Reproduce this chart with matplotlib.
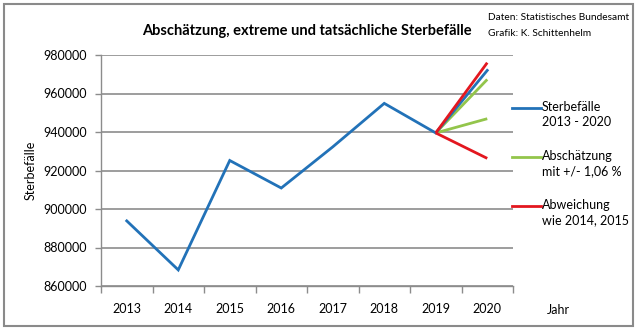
import numpy as np
import matplotlib.pyplot as plt
from matplotlib.patches import Rectangle
from matplotlib.lines import Line2D

plt.rcParams['font.family'] = ['Lato', 'DejaVu Sans']

# Daten
years = ['2013', '2014', '2015', '2016', '2017', '2018', '2019', '2020']
deaths = [893825, 868356, 925200, 910899, 932272, 954874, 939520, 972000]
est_high = 967300   # Abschätzung 2020 oben
est_low = 946900    # Abschätzung 2020 unten
dev_high = 976000   # Abweichung wie 2014/2015 oben
dev_low = 926300    # Abweichung unten

blue = '#2272b8'
green = '#93c54b'
red = '#e3171f'
grid_col = '#8c8c8c'

fig = plt.figure(figsize=(6.4, 3.34), dpi=100)
ax = fig.add_axes([101 / 640, 1 - 286 / 334, 412 / 640, 231 / 334])

x = np.arange(len(years))
ax.plot([x[6], x[7]], [deaths[6], est_high], color=green, lw=2, solid_capstyle='butt')
ax.plot([x[6], x[7]], [deaths[6], est_low], color=green, lw=2, solid_capstyle='butt')
ax.plot(x, deaths, color=blue, lw=2, solid_joinstyle='miter')
ax.plot([x[6], x[7]], [deaths[6], dev_high], color=red, lw=2, solid_capstyle='butt')
ax.plot([x[6], x[7]], [deaths[6], dev_low], color=red, lw=2, solid_capstyle='butt')

ax.set_xlim(-0.5, len(years) - 0.5)
ax.set_ylim(860000, 980000)
ax.set_yticks(np.arange(860000, 980001, 20000))
ax.set_yticklabels([str(v) for v in range(860000, 980001, 20000)], fontsize=9)
ax.set_xticks(x)
ax.set_xticklabels(years, fontsize=9)
ax.set_xticks(np.arange(-0.5, len(years), 1), minor=True)
ax.tick_params(axis='x', which='major', length=0, pad=12)
ax.tick_params(axis='x', which='minor', length=5, color=grid_col, width=1)
ax.tick_params(axis='y', length=4, color=grid_col, width=1, pad=6)
ax.grid(axis='y', color=grid_col, lw=1.2)
ax.set_axisbelow(True)
for s in ['top', 'right']:
    ax.spines[s].set_visible(False)
for s in ['left', 'bottom']:
    ax.spines[s].set_color(grid_col)
    ax.spines[s].set_linewidth(1)

ax.set_ylabel('Sterbefälle', fontsize=9, labelpad=5)
fig.text(547 / 640, 1 - 310 / 334, 'Jahr', fontsize=9, va='center')

fig.text(307 / 640, 1 - 31 / 334, 'Abschätzung, extreme und tatsächliche Sterbefälle',
         fontsize=10.5, fontweight='bold', ha='center', va='center')
fig.text(488 / 640, 1 - 18 / 334, 'Daten: Statistisches Bundesamt', fontsize=7.3, va='center')
fig.text(488 / 640, 1 - 33 / 334, 'Grafik: K. Schittenhelm', fontsize=7.3, va='center')

# Legende
legend = [(blue, 'Sterbefälle\n2013 - 2020', 108),
          (green, 'Abschätzung\nmit +/- 1,06 %', 157),
          (red, 'Abweichung\nwie 2014, 2015', 206)]
for col, label, ypx in legend:
    yf = 1 - ypx / 334
    fig.add_artist(Line2D([512 / 640, 541 / 640], [yf, yf], color=col, lw=2))
    fig.text(542 / 640, yf + 7 / 334, label, fontsize=9, va='top', linespacing=1.35)

fig.add_artist(Rectangle((4 / 640, 1 - 326 / 334), 629 / 640, 322 / 334,
                         transform=fig.transFigure, fill=False, edgecolor='#8a8a8a', lw=1.5))

fig.savefig('out.png', dpi=100)
